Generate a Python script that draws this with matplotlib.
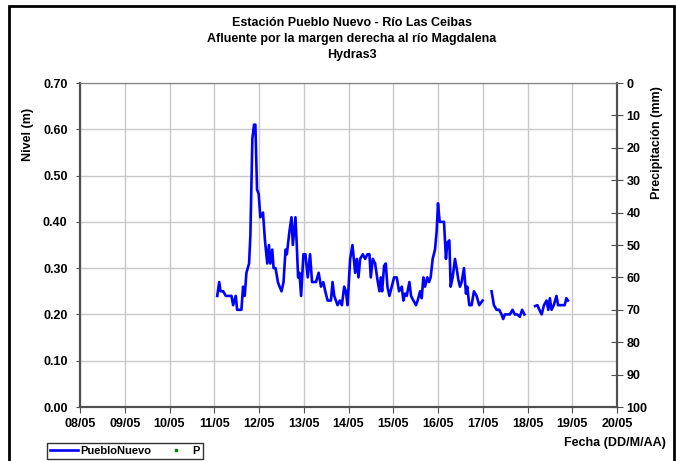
import numpy as np
import matplotlib
matplotlib.use("Agg")
from matplotlib import pyplot as plt
from matplotlib.patches import Rectangle

plt.rcParams['font.family'] = ['Liberation Sans', 'DejaVu Sans']
plt.rcParams['font.weight'] = 'bold'
plt.rcParams['font.size'] = 9

# fechas (dias desde 08/05) y nivel (m); NaN = sin dato
dias = [3.067, 3.111, 3.141, 3.200, 3.259, 3.385, 3.422, 3.481, 3.511, 3.607,
        3.644, 3.681, 3.719, 3.778, 3.807, 3.852, 3.889, 3.919, 3.956, 3.993,
        4.030, 4.089, 4.133, 4.185, 4.222, 4.252, 4.296, 4.326, 4.370, 4.422,
        4.459, 4.504, 4.548, 4.593, 4.622, 4.681, 4.726, 4.756, 4.815, 4.844,
        4.874, 4.904, 4.941, 4.993, 5.037, 5.089, 5.141, 5.185, 5.274, 5.333,
        5.385, 5.437, 5.481, 5.533, 5.607, 5.644, 5.681, 5.756, 5.807, 5.852,
        5.904, 5.941, 5.978, 6.037, 6.089, 6.149, 6.186, 6.223, 6.260, 6.320,
        6.372, 6.424, 6.468, 6.498, 6.543, 6.595, 6.647, 6.691, 6.721, 6.751,
        6.796, 6.833, 6.870, 6.914, 6.967, 7.019, 7.078, 7.130, 7.190, 7.227,
        7.264, 7.301, 7.361, 7.398, 7.450, 7.509, 7.546, 7.599, 7.636, 7.673,
        7.710, 7.762, 7.799, 7.836, 7.881, 7.933, 7.970, 8.000, 8.037, 8.134,
        8.178, 8.208, 8.253, 8.283, 8.327, 8.379, 8.416, 8.454, 8.491, 8.528,
        8.580, 8.625, 8.654, 8.699, 8.751, 8.803, 8.862, 8.922, 8.996, 9.100,
        9.197, 9.249, 9.309, 9.368, 9.420, 9.457, 9.494, 9.546, 9.606, 9.665,
        9.717, 9.770, 9.829, 9.880, 9.930, 10.050,
        10.169, 10.221, 10.265, 10.316, 10.368, 10.426, 10.463, 10.500, 10.537, 10.588,
        10.647, 10.684, 10.757, 10.831, 10.868, 10.904]
nivel = [0.24, 0.27, 0.25, 0.25, 0.24, 0.24, 0.22, 0.24, 0.21, 0.21,
         0.26, 0.24, 0.29, 0.31, 0.37, 0.58, 0.61, 0.61, 0.47, 0.46,
         0.41, 0.42, 0.36, 0.31, 0.35, 0.31, 0.34, 0.30, 0.30, 0.27,
         0.26, 0.25, 0.27, 0.34, 0.33, 0.38, 0.41, 0.35, 0.41, 0.35,
         0.28, 0.29, 0.24, 0.33, 0.33, 0.28, 0.33, 0.27, 0.27, 0.29,
         0.26, 0.27, 0.25, 0.23, 0.23, 0.27, 0.24, 0.22, 0.23, 0.22,
         0.26, 0.25, 0.22, 0.32, 0.35, 0.29, 0.32, 0.28, 0.32, 0.33,
         0.32, 0.33, 0.33, 0.28, 0.32, 0.31, 0.275, 0.25, 0.28, 0.25,
         0.305, 0.31, 0.26, 0.24, 0.26, 0.28, 0.28, 0.25, 0.26, 0.23,
         0.245, 0.24, 0.27, 0.24, 0.23, 0.22, 0.23, 0.25, 0.235, 0.28,
         0.26, 0.28, 0.27, 0.28, 0.32, 0.34, 0.38, 0.44, 0.40, 0.40,
         0.32, 0.355, 0.36, 0.26, 0.28, 0.32, 0.30, 0.275, 0.26, 0.27,
         0.30, 0.245, 0.26, 0.22, 0.22, 0.25, 0.24, 0.22, 0.23, np.nan,
         0.25, 0.22, 0.21, 0.21, 0.20, 0.19, 0.20, 0.20, 0.20, 0.21,
         0.20, 0.20, 0.195, 0.21, 0.20, np.nan,
         0.218, 0.22, 0.21, 0.20, 0.22, 0.23, 0.21, 0.235, 0.21, 0.22,
         0.24, 0.22, 0.22, 0.22, 0.235, 0.23]

# precipitacion: sin registros en el periodo
dias_p = []
precip = []

fechas = ['08/05', '09/05', '10/05', '11/05', '12/05', '13/05', '14/05',
          '15/05', '16/05', '17/05', '18/05', '19/05', '20/05']

W, H = 676, 461
fig = plt.figure(figsize=(W / 100, H / 100), dpi=100)
ax = fig.add_axes([80 / W, 1 - 407 / H, 537 / W, 324 / H])
ax2 = ax.twinx()

ax.plot(dias, nivel, color='#0000ff', lw=1.9, label='PuebloNuevo')
ax2.plot(dias_p, precip, ls='none', marker='s', ms=2, color='#008000', label='P')

ax.set_xlim(0, 12)
ax.set_ylim(0, 0.70)
ax.set_xticks(range(13))
ax.set_xticklabels(fechas)
ax.set_yticks(np.arange(0, 0.71, 0.1))
ax.set_yticklabels(['%.2f' % v for v in np.arange(0, 0.71, 0.1)])
ax.grid(True, color='#c8c8c8', lw=1)
ax.set_axisbelow(True)

ax2.set_ylim(100, 0)
ax2.set_yticks(range(0, 101, 10))

for s in ['left', 'bottom', 'right']:
    ax.spines[s].set_color('#505050')
    ax2.spines[s].set_color('#505050')
    ax2.spines[s].set_linewidth(1.5)
    ax.spines[s].set_linewidth(1.5)
ax.spines['top'].set_color('#808080')
ax2.spines['top'].set_color('#808080')

ax.tick_params(axis='x', direction='out', length=4, color='#505050', pad=4)
ax.tick_params(axis='y', direction='out', length=3, color='#505050', pad=6)
ax2.tick_params(axis='y', direction='inout', length=8, color='#505050', pad=3)

fig.text(352 / W, 1 - 23 / H, 'Estación Pueblo Nuevo - Río Las Ceibas', ha='center', va='center')
fig.text(352 / W, 1 - 39 / H, 'Afluente por la margen derecha al río Magdalena', ha='center', va='center')
fig.text(352 / W, 1 - 55 / H, 'Hydras3', ha='center', va='center')

fig.text(28 / W, 1 - 134 / H, 'Nivel (m)', rotation=90, ha='center', va='center')
fig.text(657 / W, 1 - 143 / H, 'Precipitación (mm)', rotation=90, ha='center', va='center')
fig.text(666 / W, 1 - 443 / H, 'Fecha (DD/M/AA)', ha='right', va='center')

h1, l1 = ax.get_legend_handles_labels()
h2, l2 = ax2.get_legend_handles_labels()
fig.legend(h1 + h2, l1 + l2, loc='center', bbox_to_anchor=(125 / W, 1 - 451 / H),
           ncol=2, frameon=True, fancybox=False, edgecolor='black',
           fontsize=8, handlelength=2.5, handletextpad=0.2, columnspacing=1.0,
           borderpad=0.25)

fig.patches.append(Rectangle((9 / W, -0.05), 665 / W, 1.05 - 6 / H, transform=fig.transFigure,
                             fill=False, edgecolor='black', lw=2))

fig.savefig('out.png', dpi=100)
plt.close(fig)
